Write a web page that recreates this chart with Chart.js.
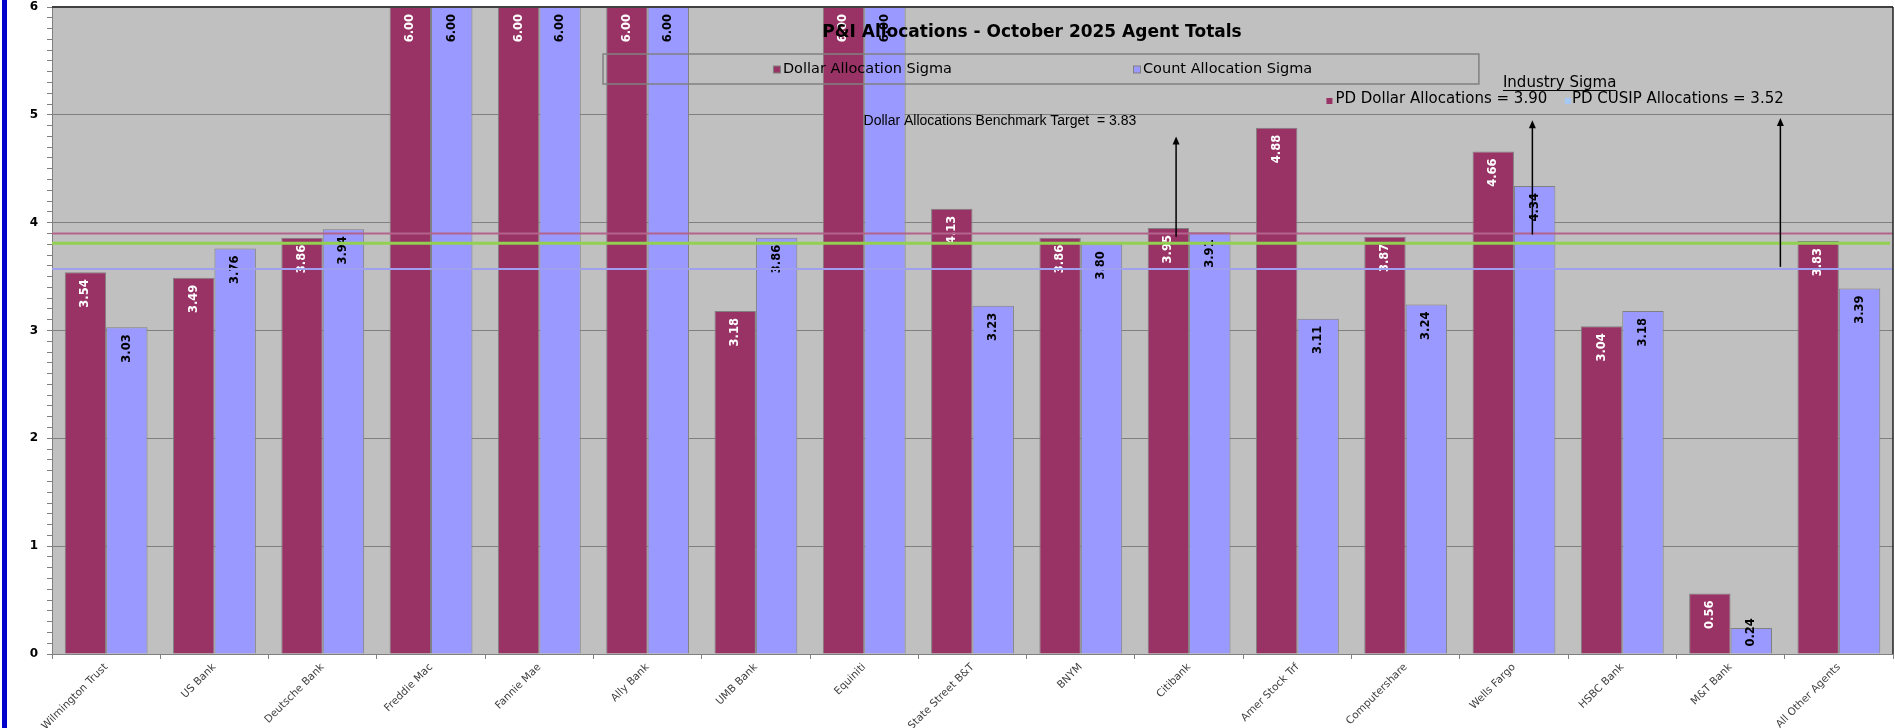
<!DOCTYPE html>
<html>
<head>
<meta charset="utf-8">
<script src="https://cdn.jsdelivr.net/npm/chart.js@4.4.1/dist/chart.umd.min.js"></script>
<style>
  html, body { margin: 0; padding: 0; background: #fff; overflow: hidden; }
  #wrap { position: relative; width: 1895px; height: 728px; }
  #edge { position: absolute; left: 2px; top: 0; width: 5px; height: 728px; background: #0000CC; }
</style>
</head>
<body>
<div id="wrap"><canvas id="chartSigma"></canvas><div id="edge"></div></div>
<script>
// P&I allocations - sigma per agent
const agents = ['Wilmington Trust', 'US Bank', 'Deutsche Bank', 'Freddie Mac', 'Fannie Mae', 'Ally Bank',
  'UMB Bank', 'Equiniti', 'State Street B&T', 'BNYM', 'Citibank', 'Amer Stock Trf', 'Computershare',
  'Wells Fargo', 'HSBC Bank', 'M&T Bank', 'All Other Agents'];
const dollarSigma = [3.54, 3.49, 3.86, 6.00, 6.00, 6.00, 3.18, 6.00, 4.13, 3.86, 3.95, 4.88, 3.87, 4.66, 3.04, 0.56, 3.83];
const countSigma = [3.03, 3.76, 3.94, 6.00, 6.00, 6.00, 3.86, 6.00, 3.23, 3.80, 3.91, 3.11, 3.24, 4.34, 3.18, 0.24, 3.39];

// horizontal reference lines: industry dollar, benchmark target, industry cusip
const refLineValues = [3.90, 3.81, 3.57];

// arrows (category position, from value, to value)
const arrowX = [9.88, 13.17, 15.46];
const arrowFrom = [3.87, 3.89, 3.59];
const arrowTo = [4.80, 4.95, 4.97];

const chartTitle = 'P&I Allocations - October 2025 Agent Totals';
const benchmarkText = 'Dollar Allocations Benchmark Target  = 3.83';
const industryTitle = 'Industry Sigma';
const industryItems = ['PD Dollar Allocations = 3.90', 'PD CUSIP Allocations = 3.52'];

const FONT = '"DejaVu Sans", Verdana, sans-serif';
const isMajor = v => Math.abs(v - Math.round(v)) < 1e-6;

const sigmaOverlay = {
    id: 'sigmaOverlay',
    beforeDraw(chart) {
        const { ctx, chartArea: a } = chart;
        ctx.save();
        ctx.fillStyle = '#C0C0C0';
        ctx.fillRect(a.left, a.top, a.right - a.left, a.bottom - a.top);
        ctx.restore();
    },
    afterDatasetsDraw(chart) {
        const { ctx, chartArea: a, scales: { x, y } } = chart;
        const px = v => x.getPixelForValue(v);
        const py = v => y.getPixelForValue(v);
        ctx.save();

        // value labels, rotated, inside end
        ctx.font = 'bold 11.5px ' + FONT;
        ctx.textAlign = 'right';
        ctx.textBaseline = 'middle';
        chart.data.datasets.forEach((ds, di) => {
            chart.getDatasetMeta(di).data.forEach((bar, i) => {
                const txt = ds.data[i].toFixed(2);
                const w = ctx.measureText(txt).width;
                let top = bar.y + 7;
                if (top + w > bar.base - 7) top = bar.base - 7 - w;
                ctx.save();
                ctx.translate(bar.x, top);
                ctx.rotate(-Math.PI / 2);
                ctx.fillStyle = di === 0 ? '#FFFFFF' : '#000000';
                ctx.fillText(txt, 0, 0);
                ctx.restore();
            });
        });

        // reference lines
        const lineStyles = [['#B4648C', 2], ['#92D050', 3], ['#A0A0F0', 2]];
        refLineValues.forEach((v, k) => {
            ctx.strokeStyle = lineStyles[k][0];
            ctx.lineWidth = lineStyles[k][1];
            ctx.beginPath();
            ctx.moveTo(a.left, py(v));
            ctx.lineTo(a.right - (k === 1 ? 3 : 0), py(v));
            ctx.stroke();
        });

        // plot border top / right
        ctx.strokeStyle = '#404040';
        ctx.lineWidth = 2;
        ctx.beginPath();
        ctx.moveTo(a.left, a.top);
        ctx.lineTo(a.right, a.top);
        ctx.stroke();
        ctx.strokeStyle = '#202020';
        ctx.lineWidth = 1.5;
        ctx.beginPath();
        ctx.moveTo(a.right, a.top);
        ctx.lineTo(a.right, a.bottom);
        ctx.stroke();

        // legend box
        ctx.strokeStyle = '#808080';
        ctx.lineWidth = 1.5;
        ctx.strokeRect(px(4.588), py(5.564), px(12.676) - px(4.588), py(5.286) - py(5.564));
        ctx.font = '14.5px ' + FONT;
        ctx.textAlign = 'left';
        ctx.textBaseline = 'middle';
        const legX = [6.194, 9.519];
        chart.data.datasets.forEach((ds, di) => {
            const cx = px(legX[di]), cy = py(5.425);
            ctx.fillStyle = ds.backgroundColor;
            ctx.fillRect(cx - 3.5, cy - 3, 7, 7);
            ctx.strokeStyle = '#808080';
            ctx.lineWidth = 1;
            ctx.strokeRect(cx - 3.5, cy - 3, 7, 7);
            ctx.fillStyle = '#000';
            ctx.fillText(ds.label, cx + 6, cy);
        });

        // title
        ctx.font = 'bold 17px ' + FONT;
        ctx.textAlign = 'center';
        ctx.fillStyle = '#000';
        ctx.fillText(chartTitle, px(8.549), py(5.765));

        // benchmark text
        ctx.font = '14px "Liberation Sans", Arial, sans-serif';
        ctx.fillText(benchmarkText, px(8.253), py(4.943));

        // industry sigma block
        ctx.font = '15px ' + FONT;
        ctx.textAlign = 'left';
        const ix = px(12.898), iy = py(5.295);
        ctx.fillText(industryTitle, ix, iy);
        const iw = ctx.measureText(industryTitle).width;
        ctx.strokeStyle = '#000';
        ctx.lineWidth = 1;
        ctx.beginPath();
        ctx.moveTo(ix, iy + 7.5);
        ctx.lineTo(ix + iw, iy + 7.5);
        ctx.stroke();
        const itemX = [11.296, 13.498];
        const itemColors = ['#993366', '#A6C8F5'];
        industryItems.forEach((t, k) => {
            const cx = px(itemX[k]), cy = py(5.147);
            ctx.fillStyle = itemColors[k];
            ctx.fillRect(cx - 3, cy - 1, 6, 6);
            ctx.fillStyle = '#000';
            ctx.fillText(t, cx + (k === 0 ? 6 : 4), cy);
        });

        // arrows
        ctx.strokeStyle = '#000';
        ctx.fillStyle = '#000';
        ctx.lineWidth = 1.5;
        arrowX.forEach((v, k) => {
            const ax = px(v), y0 = py(arrowFrom[k]), y1 = py(arrowTo[k]);
            ctx.beginPath();
            ctx.moveTo(ax, y0);
            ctx.lineTo(ax, y1 + 5);
            ctx.stroke();
            ctx.beginPath();
            ctx.moveTo(ax, y1);
            ctx.lineTo(ax - 3.5, y1 + 8);
            ctx.lineTo(ax + 3.5, y1 + 8);
            ctx.closePath();
            ctx.fill();
        });

        ctx.restore();
    }
};

new Chart(document.getElementById('chartSigma').getContext('2d'), {
    type: 'bar',
    data: {
        labels: agents,
        datasets: [{
            label: 'Dollar Allocation Sigma',
            data: dollarSigma,
            backgroundColor: '#993366',
            borderColor: '#808080',
            borderWidth: 1,
            categoryPercentage: 0.765,
            barPercentage: 1
        }, {
            label: 'Count Allocation Sigma',
            data: countSigma,
            backgroundColor: '#9999FF',
            borderColor: '#808080',
            borderWidth: 1,
            categoryPercentage: 0.765,
            barPercentage: 1
        }]
    },
    options: {
        responsive: true,
        maintainAspectRatio: false,
        animation: false,
        layout: { padding: { left: 0, top: 7, right: 2, bottom: 0 } },
        plugins: { legend: { display: false }, tooltip: { enabled: false }, title: { display: false } },
        scales: {
            x: {
                offset: true,
                grid: { offset: true, drawOnChartArea: false, color: '#808080', tickLength: 5 },
                border: { color: '#808080' },
                ticks: {
                    autoSkip: false, minRotation: 45, maxRotation: 45, padding: 2, color: '#404040',
                    font: { family: 'DejaVu Sans', size: 10.5 }
                },
                afterFit(s) { s.height = 74; }
            },
            y: {
                min: 0,
                max: 6,
                grid: {
                    color: c => isMajor(c.tick.value) ? '#808080' : 'rgba(0,0,0,0)',
                    tickColor: '#808080',
                    tickLength: 5
                },
                border: { color: '#808080' },
                ticks: {
                    stepSize: 0.1, autoSkip: false, padding: 9, color: '#000',
                    font: { family: 'DejaVu Sans', size: 12, weight: 'bold' },
                    callback: v => isMajor(v) ? String(Math.round(v)) : ''
                },
                afterFit(s) {
                    s.width = 52;
                    s.paddingTop = 0;
                    s.paddingBottom = 0;
                }
            }
        }
    },
    plugins: [sigmaOverlay]
});
</script>
</body>
</html>
